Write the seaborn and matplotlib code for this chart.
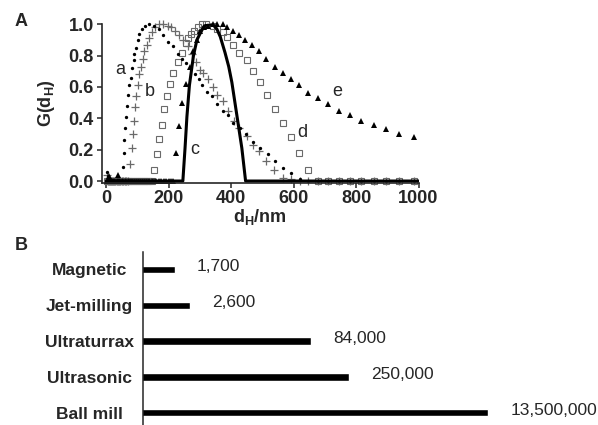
import numpy as np
import matplotlib
matplotlib.use("Agg")
import matplotlib.pyplot as plt
import seaborn as sns

# ---- Panel A: size distributions G(dH) ----
band_sizes = [3, 6, 9, 12, 15, 18, 21, 25, 29, 33, 37, 41, 45, 49, 54, 59, 64, 69,
              74, 80, 86, 92, 98, 104, 110, 117, 124, 131, 138, 145, 152, 160, 168,
              176, 184, 192, 200, 208, 215]
tail_sizes = [646, 678, 710, 744, 780, 817, 856, 897, 939, 984]

a_x = [1, 4, 8, 53, 55, 57.5, 61, 63, 66, 70, 74, 79, 83, 87, 90, 94, 100, 106, 114,
       125, 138, 151, 167, 183, 199, 213, 228, 241, 256, 268, 285, 296, 306, 322,
       338, 355, 373, 391, 407, 427, 447, 469, 493, 517, 540, 565, 590, 620]
a_g = [0.06, 0.03, 0.01, 0.09, 0.18, 0.26, 0.34, 0.41, 0.48, 0.55, 0.61, 0.66, 0.72,
       0.77, 0.81, 0.85, 0.90, 0.94, 0.97, 0.99, 1.00, 0.99, 0.97, 0.93, 0.89, 0.86,
       0.81, 0.78, 0.75, 0.72, 0.68, 0.65, 0.61, 0.57, 0.54, 0.49, 0.45, 0.42, 0.37,
       0.34, 0.30, 0.25, 0.21, 0.17, 0.13, 0.085, 0.05, 0.01]

b_x = [2, 75, 82, 85, 89, 93, 96, 100, 106, 111, 117, 122, 130, 135, 146, 157, 170,
       183, 196, 207, 220, 234, 247, 260, 274, 287, 300, 309, 324, 341, 356, 373,
       391, 410, 426, 449, 471, 490, 513, 537, 565, 590, 620]
b_g = [0.04, 0.11, 0.21, 0.30, 0.38, 0.47, 0.54, 0.61, 0.68, 0.73, 0.78, 0.83, 0.87,
       0.91, 0.95, 0.98, 1.00, 1.00, 0.99, 0.98, 0.96, 0.93, 0.90, 0.86, 0.81, 0.76,
       0.71, 0.69, 0.65, 0.60, 0.55, 0.51, 0.45, 0.38, 0.34, 0.29, 0.23, 0.19, 0.13,
       0.07, 0.02, 0.01, 0.0]

c_x = [0, 245, 252, 258, 266, 279, 290, 300, 312, 324, 335, 345, 354, 365, 380, 392,
       402, 418, 434, 446, 1000]
c_g = [0.0, 0.0, 0.21, 0.41, 0.61, 0.80, 0.90, 0.94, 0.985, 1.0, 1.0, 0.99, 0.97,
       0.92, 0.82, 0.73, 0.63, 0.42, 0.21, 0.0, 0.0]

d_x = [153, 162, 170, 178, 185, 194, 204, 215, 228, 242, 256, 263, 270, 281, 292, 306,
       320, 340, 356, 373, 385, 407, 426, 449, 469, 492, 515, 540, 565, 590, 618, 646]
d_g = [0.07, 0.17, 0.27, 0.36, 0.46, 0.54, 0.62, 0.69, 0.76, 0.82, 0.88, 0.91, 0.94,
       0.96, 0.98, 1.00, 1.00, 0.99, 0.97, 0.95, 0.92, 0.87, 0.82, 0.77, 0.70, 0.63,
       0.55, 0.46, 0.37, 0.28, 0.18, 0.07]

e_x = [8, 36, 224, 233, 243, 255, 267, 279, 290, 300, 312, 324, 341, 356, 373, 388,
       407, 426, 444, 465, 490, 513, 540, 565, 590, 618, 646, 678, 710, 744, 780,
       817, 856, 897, 939, 984]
e_g = [0.03, 0.04, 0.18, 0.35, 0.50, 0.62, 0.73, 0.83, 0.90, 0.96, 0.98, 0.99, 1.00,
       1.00, 1.00, 0.98, 0.96, 0.93, 0.90, 0.87, 0.83, 0.78, 0.73, 0.69, 0.65, 0.61,
       0.56, 0.53, 0.49, 0.45, 0.42, 0.38, 0.36, 0.33, 0.30, 0.28]

curve_labels = ["a", "b", "c", "d", "e"]
label_pos = [(44, 0.71), (138, 0.57), (284, 0.20), (627, 0.31), (739, 0.57)]

# ---- Panel B: methods ----
methods = ["Magnetic", "Jet-milling", "Ultraturrax", "Ultrasonic", "Ball mill"]
method_values = [1700, 2600, 84000, 250000, 13500000]


def with_zeros(xs, gs, zero_x):
    # add the zero-valued bins that sit on the baseline
    pts = sorted(list(zip(xs, gs)) + [(z, 0.0) for z in zero_x if z not in xs])
    return [p[0] for p in pts], [p[1] for p in pts]


sns.set_style("ticks")
plt.rcParams["font.family"] = ["Liberation Sans", "DejaVu Sans"]
plt.rcParams["mathtext.fontset"] = "custom"
plt.rcParams["mathtext.rm"] = "Liberation Sans"
plt.rcParams["mathtext.bf"] = "Liberation Sans:bold"

fig = plt.figure(figsize=(5.98, 4.25), dpi=100)

axA = fig.add_axes([101.7 / 598, 1 - 182.6 / 425, (418.5 - 101.7) / 598, (182.6 - 24.3) / 425])

ax_, ag_ = with_zeros(a_x, a_g, [z for z in band_sizes if 10 < z < 50] + tail_sizes)
bx_, bg_ = with_zeros(b_x, b_g, [z for z in band_sizes if 5 < z < 72] + tail_sizes)
dx_, dg_ = with_zeros(d_x, d_g, [z for z in band_sizes if z < 150] + tail_sizes)
ex_, eg_ = with_zeros(e_x, e_g, [z for z in band_sizes if z < 220])

common = dict(ax=axA, linestyle="none", legend=False, errorbar=None, clip_on=False, sort=False)
sns.lineplot(x=dx_, y=dg_, marker="s", markersize=4.6, markerfacecolor="none",
             markeredgecolor="#6a6a6a", markeredgewidth=0.8, **common)
sns.lineplot(x=bx_, y=bg_, marker="+", markersize=6, color="#6a6a6a",
             markeredgecolor="#6a6a6a", markeredgewidth=0.9, **common)
sns.lineplot(x=ax_, y=ag_, marker="o", markersize=2.4, color="black",
             markeredgecolor="black", markeredgewidth=0, **common)
sns.lineplot(x=ex_, y=eg_, marker="^", markersize=4.8, color="black",
             markeredgecolor="black", markeredgewidth=0, **common)
sns.lineplot(x=c_x, y=c_g, color="black", linewidth=2.2, ax=axA, legend=False,
             errorbar=None, sort=False)

for lab, (lx, ly) in zip(curve_labels, label_pos):
    axA.text(lx, ly, lab, fontsize=13, ha="center", va="center")

axA.set_xlim(-15, 1000)
axA.set_ylim(-0.01, 1.0)
axA.set_xticks([0, 200, 400, 600, 800, 1000])
axA.set_yticks([0.0, 0.2, 0.4, 0.6, 0.8, 1.0])
axA.set_yticklabels([f"{t:.1f}" for t in axA.get_yticks()])
axA.tick_params(direction="out", length=3.6, width=1.1, labelsize=13, pad=2)
for t in axA.get_xticklabels() + axA.get_yticklabels():
    t.set_fontweight("bold")
axA.set_xlabel(r"d$_\mathbf{H}$/nm", fontsize=13, fontweight="bold", labelpad=0)
axA.set_ylabel(r"G(d$_\mathbf{H}$)", fontsize=13, fontweight="bold", labelpad=8)
sns.despine(ax=axA)
for s in ["left", "bottom"]:
    axA.spines[s].set_linewidth(1.2)

# ---- Panel B ----
axB = fig.add_axes([143.3 / 598, 0.0, (598 - 143.3) / 598, (425 - 251.7) / 425])
sns.barplot(x=method_values, y=methods, orient="h", color="black", saturation=1,
            width=0.2, ax=axB)
axB.set_xscale("log")
axB.set_xlim(690, 3.12e8)
axB.set_ylim(4.34, -0.49)
axB.set_xlabel("")
axB.set_ylabel("")
axB.set_xticks([])
axB.minorticks_off()
axB.tick_params(axis="y", length=0, pad=39, labelsize=12.5)
for t in axB.get_yticklabels():
    t.set_fontweight("bold")
    t.set_ha("center")
for i, v in enumerate(method_values):
    axB.annotate(f"{v:,}", xy=(v, i), xytext=(16, 2), textcoords="offset points",
                 va="center", ha="left", fontsize=12.5)
sns.despine(ax=axB, bottom=True)
axB.spines["left"].set_linewidth(1.1)

fig.text(21 / 598, 1 - 21 / 425, "A", fontsize=13, fontweight="bold", ha="center", va="center")
fig.text(21.5 / 598, 1 - 246 / 425, "B", fontsize=13, fontweight="bold", ha="center", va="center")

fig.savefig("out.png", dpi=100)
